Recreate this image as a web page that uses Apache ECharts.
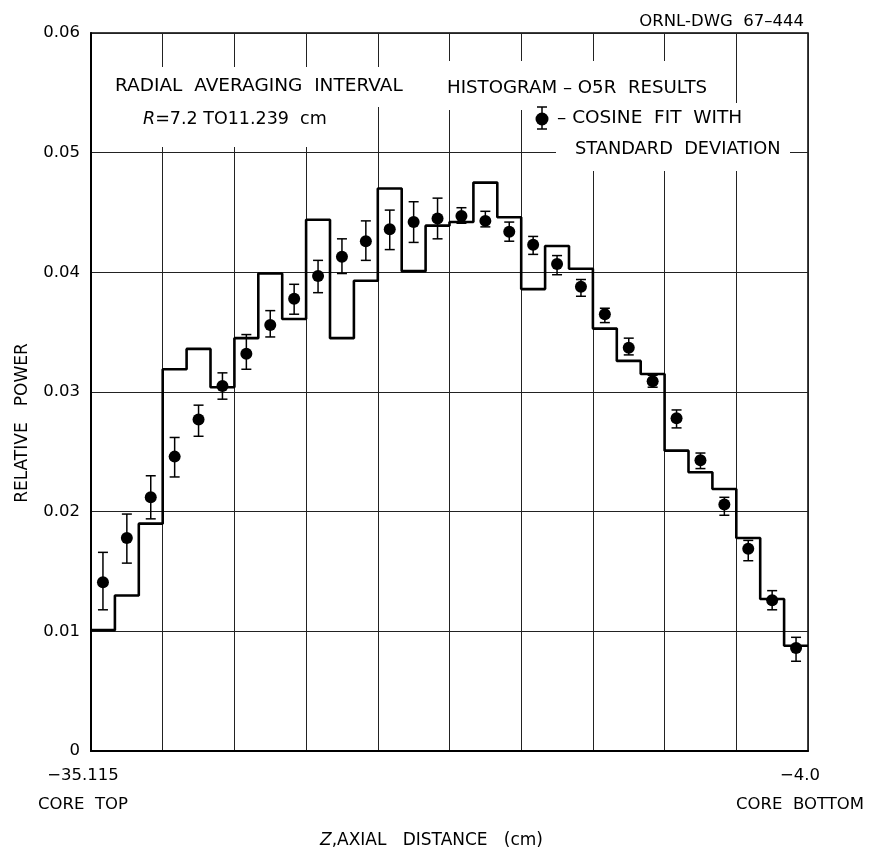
<!DOCTYPE html>
<html>
<head>
<meta charset="utf-8">
<script src="https://cdn.jsdelivr.net/npm/echarts@6/dist/echarts.min.js"></script>
<style>
  html, body { margin: 0; padding: 0; background: #fff; }
  #chart { width: 882px; height: 851px; }
</style>
</head>
<body>
<div id="chart"></div>
<script>
// Axial span of the core (cm) and number of histogram intervals
const zTop = '−35.115';
const zBottom = '−4.0';
const binCount = 30;

// Histogram (O5R Monte Carlo) relative power per axial interval, core top to bottom
const histogramPower = [
  0.0101, 0.0130, 0.0190, 0.0319, 0.0336, 0.0304, 0.0345, 0.0399, 0.0361, 0.0444,
  0.0345, 0.0393, 0.0470, 0.0401, 0.0439, 0.0442, 0.0475, 0.0446, 0.0386, 0.0422,
  0.0403, 0.0353, 0.0326, 0.0315, 0.0251, 0.0233, 0.0219, 0.0178, 0.0127, 0.0088
];

// Cosine fit at each interval midpoint, with standard deviation band
const cosineFit = [
  0.0141, 0.0178, 0.0212, 0.0246, 0.0277, 0.0305, 0.0332, 0.0356, 0.0378, 0.0397,
  0.0413, 0.0426, 0.0436, 0.0442, 0.0445, 0.0447, 0.0443, 0.0434, 0.0423, 0.0407,
  0.0388, 0.0365, 0.0337, 0.0309, 0.0278, 0.0243, 0.0206, 0.0169, 0.0126, 0.0086
];
const fitUpper = [
  0.0166, 0.0198, 0.0230, 0.0262, 0.0289, 0.0316, 0.0348, 0.0368, 0.0390, 0.0410,
  0.0428, 0.0443, 0.0452, 0.0459, 0.0462, 0.0454, 0.0451, 0.0442, 0.0430, 0.0414,
  0.0394, 0.0370, 0.0345, 0.0314, 0.0285, 0.0249, 0.0212, 0.0176, 0.0134, 0.0095
];
const fitLower = [
  0.0118, 0.0157, 0.0194, 0.0229, 0.0263, 0.0294, 0.0319, 0.0346, 0.0365, 0.0383,
  0.0399, 0.0410, 0.0419, 0.0425, 0.0428, 0.0441, 0.0438, 0.0426, 0.0415, 0.0398,
  0.0380, 0.0358, 0.0331, 0.0304, 0.0270, 0.0236, 0.0197, 0.0159, 0.0118, 0.0075
];

// Y tick values
const powerTicks = [0, 0.01, 0.02, 0.03, 0.04, 0.05, 0.06];

const FONT = 'DejaVu Sans';

// Step outline: each interval starts at its index; final edge closes the last interval
const stepData = histogramPower.map((v, i) => [i, v]);
stepData.push([binCount, histogramPower[binCount - 1]]);

const pointData = cosineFit.map((v, i) => [i + 0.5, v]);
const errData = cosineFit.map((v, i) => [i + 0.5, fitLower[i], fitUpper[i]]);

const chart = echarts.init(document.getElementById('chart'), null, { renderer: 'canvas' });

const option = {
  animation: false,
  backgroundColor: '#fff',
  textStyle: { fontFamily: FONT, color: '#000' },
  title: {
    text: 'ORNL-DWG  67–444',
    right: 73,
    top: 8,
    textStyle: { fontFamily: FONT, fontSize: 16.5, fontWeight: 'normal', color: '#000' }
  },
  grid: {
    left: 91, right: 74, top: 33, bottom: 100,
    containLabel: false,
    outerBoundsMode: 'none',
    show: true, borderColor: '#000', borderWidth: 1.5, backgroundColor: 'transparent'
  },
  xAxis: {
    type: 'value',
    min: 0, max: binCount, interval: 3,
    axisLine: { show: true, lineStyle: { color: '#000', width: 2 } },
    axisTick: { show: false },
    splitLine: { show: true, lineStyle: { color: '#222', width: 1 } },
    axisLabel: {
      show: true,
      showMinLabel: true, showMaxLabel: true,
      margin: 10,
      fontFamily: FONT, fontSize: 16.5, color: '#000',
      lineHeight: 29,
      padding: [0, 16, 0, 0],
      formatter: v => v === 0 ? zTop + '\nCORE  TOP' : (v === binCount ? zBottom + '\nCORE  BOTTOM' : '')
    },
    name: '{i|Z},AXIAL   DISTANCE   (cm)',
    nameLocation: 'middle',
    nameGap: 81,
    nameTextStyle: {
      fontFamily: FONT, fontSize: 17, color: '#000',
      padding: [0, 36, 0, 0],
      rich: { i: { fontFamily: FONT, fontSize: 17, fontStyle: 'italic', color: '#000' } }
    }
  },
  yAxis: {
    type: 'value',
    min: powerTicks[0], max: powerTicks[powerTicks.length - 1], interval: 0.01,
    axisLine: { show: true, lineStyle: { color: '#000', width: 2 } },
    axisTick: { show: false },
    splitLine: { show: true, lineStyle: { color: '#222', width: 1 } },
    axisLabel: {
      margin: 11,
      fontFamily: FONT, fontSize: 16.5, color: '#000',
      formatter: v => v === 0 ? '0' : v.toFixed(2)
    },
    name: 'RELATIVE   POWER',
    nameLocation: 'middle',
    nameRotate: 90,
    nameGap: 60,
    nameTextStyle: {
      fontFamily: FONT, fontSize: 17, color: '#000',
      padding: [0, 62, 0, 0]
    }
  },
  series: [
    {
      name: 'histogram',
      type: 'line',
      step: 'end',
      data: stepData,
      symbol: 'none',
      lineStyle: { color: '#000', width: 2.6 },
      z: 3
    },
    {
      name: 'deviation',
      type: 'custom',
      data: errData,
      z: 4,
      renderItem: (params, api) => {
        const x = api.value(0);
        const lo = api.coord([x, api.value(1)]);
        const hi = api.coord([x, api.value(2)]);
        const hw = 5;
        const st = { stroke: '#000', lineWidth: 1.5 };
        return {
          type: 'group',
          children: [
            { type: 'line', shape: { x1: lo[0], y1: lo[1], x2: hi[0], y2: hi[1] }, style: st },
            { type: 'line', shape: { x1: lo[0] - hw, y1: lo[1], x2: lo[0] + hw, y2: lo[1] }, style: st },
            { type: 'line', shape: { x1: hi[0] - hw, y1: hi[1], x2: hi[0] + hw, y2: hi[1] }, style: st }
          ]
        };
      }
    },
    {
      name: 'cosine fit',
      type: 'scatter',
      data: pointData,
      symbol: 'circle',
      symbolSize: 12,
      itemStyle: { color: '#000', opacity: 1 },
      z: 5
    }
  ],
  graphic: [
    // blank panels behind the annotation lettering
    { type: 'rect', z: 100, shape: { x: 100, y: 67, width: 320, height: 40 }, style: { fill: '#fff' } },
    { type: 'rect', z: 100, shape: { x: 100, y: 107, width: 245, height: 40 }, style: { fill: '#fff' } },
    { type: 'rect', z: 100, shape: { x: 440, y: 61, width: 282, height: 49 }, style: { fill: '#fff' } },
    { type: 'rect', z: 100, shape: { x: 556, y: 103, width: 234, height: 68 }, style: { fill: '#fff' } },
    {
      type: 'text', z: 101, left: 115, top: 77,
      style: { text: 'RADIAL  AVERAGING  INTERVAL', font: '18.5px "DejaVu Sans"', fill: '#000' }
    },
    {
      type: 'text', z: 101, left: 143, top: 110,
      style: {
        text: '{i|R}=7.2 TO11.239  cm',
        font: '17.5px "DejaVu Sans"', fill: '#000',
        rich: { i: { fontStyle: 'italic', fontSize: 17.5, fontFamily: FONT, fill: '#000' } }
      }
    },
    {
      type: 'text', z: 101, left: 447, top: 79,
      style: { text: 'HISTOGRAM – O5R  RESULTS', font: '18.2px "DejaVu Sans"', fill: '#000' }
    },
    {
      type: 'text', z: 101, left: 557, top: 109,
      style: { text: '– COSINE  FIT  WITH', font: '18.5px "DejaVu Sans"', fill: '#000' }
    },
    {
      type: 'text', z: 101, left: 575, top: 140,
      style: { text: 'STANDARD  DEVIATION', font: '17.8px "DejaVu Sans"', fill: '#000' }
    },
    // legend key: point with deviation bar
    { type: 'line', z: 101, shape: { x1: 542, y1: 107, x2: 542, y2: 129 }, style: { stroke: '#000', lineWidth: 1.5 } },
    { type: 'line', z: 101, shape: { x1: 537, y1: 107, x2: 547, y2: 107 }, style: { stroke: '#000', lineWidth: 1.5 } },
    { type: 'line', z: 101, shape: { x1: 537, y1: 129, x2: 547, y2: 129 }, style: { stroke: '#000', lineWidth: 1.5 } },
    { type: 'circle', z: 101, shape: { cx: 542, cy: 119, r: 6.5 }, style: { fill: '#000' } }
  ]
};

chart.setOption(option);
</script>
</body>
</html>
